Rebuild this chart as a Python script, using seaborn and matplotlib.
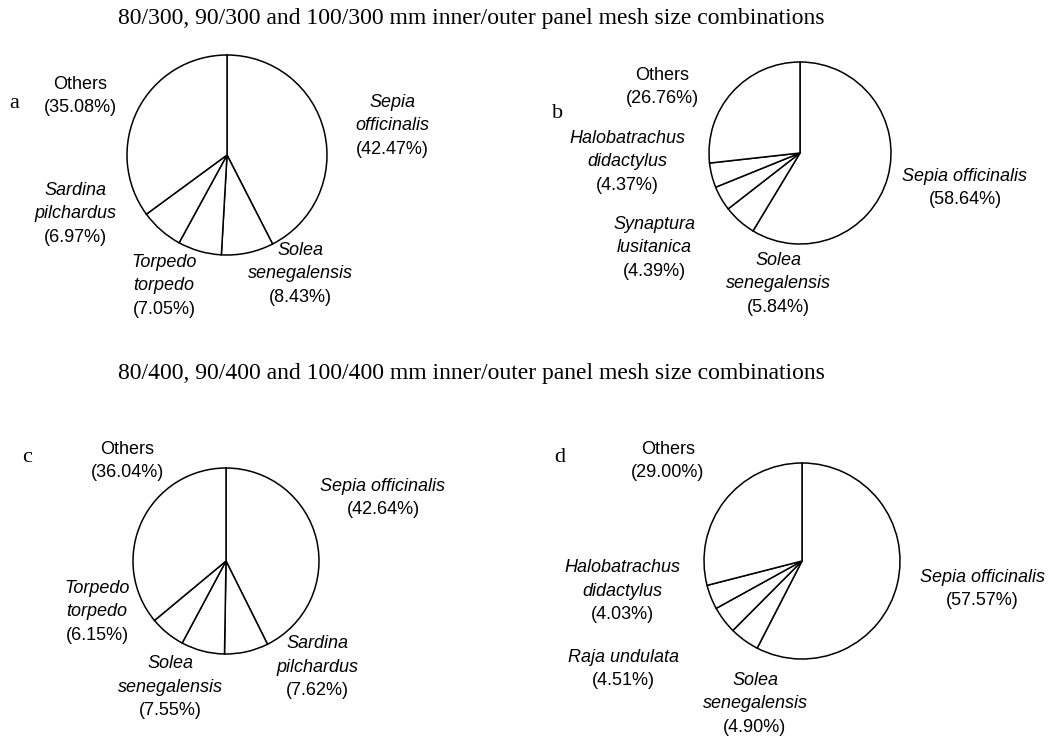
import matplotlib
matplotlib.use("Agg")
import matplotlib.pyplot as plt
import seaborn as sns

# Data
names_a = ["Sepia\nofficinalis", "Solea\nsenegalensis", "Torpedo\ntorpedo", "Sardina\npilchardus", "Others"]
values_a = [42.47, 8.43, 7.05, 6.97, 35.08]

names_b = ["Sepia officinalis", "Solea\nsenegalensis", "Synaptura\nlusitanica", "Halobatrachus\ndidactylus", "Others"]
values_b = [58.64, 5.84, 4.39, 4.37, 26.76]

names_c = ["Sepia officinalis", "Sardina\npilchardus", "Solea\nsenegalensis", "Torpedo\ntorpedo", "Others"]
values_c = [42.64, 7.62, 7.55, 6.15, 36.04]

names_d = ["Sepia officinalis", "Solea\nsenegalensis", "Raja undulata", "Halobatrachus\ndidactylus", "Others"]
values_d = [57.57, 4.90, 4.51, 4.03, 29.00]

titles = ["80/300, 90/300 and 100/300 mm inner/outer panel mesh size combinations",
          "80/400, 90/400 and 100/400 mm inner/outer panel mesh size combinations"]
panel_letters = ["a", "b", "c", "d"]

# Layout (pixels, y measured from top)
W, H = 1049, 738
panels = [
    dict(names=names_a, values=values_a, center=(227, 155), r=100, letter=(14, 103),
         labels=[(392, 126), (300, 274), (164, 286), (75, 214), (80, 96)]),
    dict(names=names_b, values=values_b, center=(800, 153), r=91, letter=(558, 113),
         labels=[(965, 188), (778, 284), (654, 248), (627, 162), (662, 87)]),
    dict(names=names_c, values=values_c, center=(226, 561), r=93, letter=(27, 457),
         labels=[(383, 498), (317, 667), (170, 687), (97, 612), (127, 461)]),
    dict(names=names_d, values=values_d, center=(802, 561), r=98, letter=(560, 457),
         labels=[(982, 589), (755, 704), (623, 669), (622, 591), (668, 461)]),
]
title_pos = [(471, 18.5), (471, 374)]

sns.set_theme(style="white")
sans = ["Liberation Sans", "DejaVu Sans"]
serif = ["Liberation Serif", "DejaVu Serif"]

fig = plt.figure(figsize=(W / 100, H / 100), dpi=100)
ax = fig.add_axes([0, 0, 1, 1])

lh = 23.5
for p in panels:
    cx, cy = p["center"]
    ax.pie(p["values"], startangle=90, counterclock=False, center=(cx, H - cy),
           radius=p["r"], colors=["white"], frame=True,
           wedgeprops=dict(edgecolor="black", linewidth=1.1))
    for name, val, (lx, ly) in zip(p["names"], p["values"], p["labels"]):
        lines = name.split("\n") + [f"({val:.2f}%)"]
        n = len(lines)
        top = ly - (n - 1) * lh / 2
        for i, line in enumerate(lines):
            italic = i < n - 1 and name != "Others"
            ax.text(lx, H - (top + i * lh), line, ha="center", va="center",
                    fontsize=13, family=sans, style="italic" if italic else "normal",
                    color="black")

for p, letter in zip(panels, panel_letters):
    x, y = p["letter"]
    ax.text(x, H - y, letter, ha="center", va="center", fontsize=16, family=serif, color="black")

for t, (x, y) in zip(titles, title_pos):
    ax.text(x, H - y, t, ha="center", va="center", fontsize=17, family=serif, color="black")

ax.set_xlim(0, W)
ax.set_ylim(0, H)
ax.set_aspect("auto")
ax.set_axis_off()

plt.savefig("out.png", dpi=100, facecolor="white")
plt.close()
